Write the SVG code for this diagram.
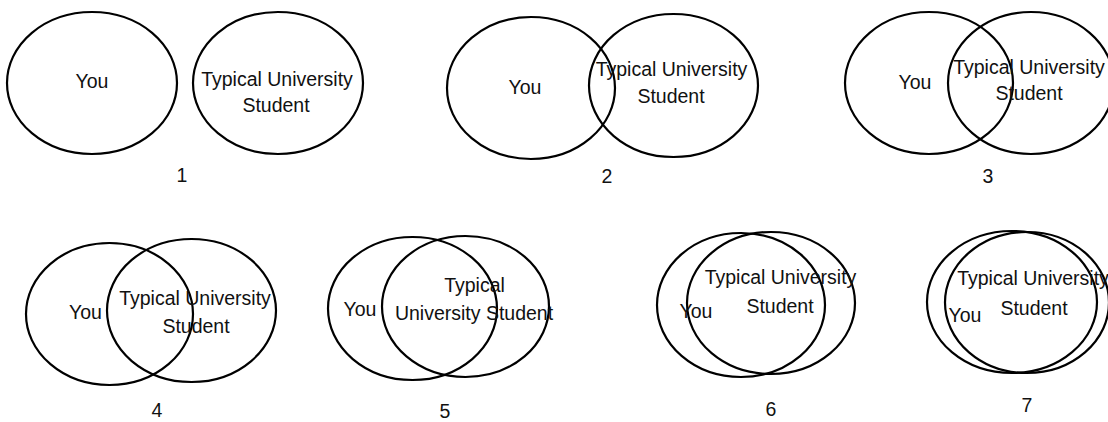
<svg xmlns="http://www.w3.org/2000/svg" width="1108" height="422" viewBox="0 0 1108 422">
<style>
ellipse{fill:none;stroke:#000;stroke-width:2.2}
text{font-family:"Liberation Sans",Arial,sans-serif;font-size:19.5px;fill:#111;text-anchor:middle}
</style>
<rect width="1108" height="422" fill="#fff"/>
<g id="connectors"/>
<g id="panel1">
<ellipse cx="92" cy="83" rx="85" ry="71"/>
<ellipse cx="278" cy="83" rx="85" ry="71"/>
<text x="92" y="88">You</text>
<text x="277" y="86">Typical University</text>
<text x="276" y="112">Student</text>
<text x="182" y="182">1</text>
</g>
<g id="panel2">
<ellipse cx="531" cy="88" rx="84" ry="71"/>
<ellipse cx="673.5" cy="85.5" rx="84.5" ry="71.5"/>
<text x="525" y="94">You</text>
<text x="671.5" y="76">Typical University</text>
<text x="671" y="103">Student</text>
<text x="607" y="183">2</text>
</g>
<g id="panel3">
<ellipse cx="929" cy="83" rx="84" ry="71"/>
<ellipse cx="1031" cy="83" rx="83" ry="71"/>
<text x="915" y="89">You</text>
<text x="1029" y="74">Typical University</text>
<text x="1029" y="100">Student</text>
<text x="988" y="183">3</text>
</g>
<g id="panel4">
<ellipse cx="109.5" cy="314" rx="83.5" ry="71"/>
<ellipse cx="191.5" cy="310.5" rx="84.5" ry="71.5"/>
<text x="85.5" y="319">You</text>
<text x="195" y="305">Typical University</text>
<text x="196" y="333">Student</text>
<text x="157" y="417">4</text>
</g>
<g id="panel5">
<ellipse cx="412.5" cy="308.5" rx="84.5" ry="71.5"/>
<ellipse cx="465.5" cy="306.5" rx="83.5" ry="70.5"/>
<text x="360" y="316">You</text>
<text x="474.5" y="292">Typical</text>
<text x="474" y="320">University Student</text>
<text x="445" y="418">5</text>
</g>
<g id="panel6">
<ellipse cx="741" cy="305" rx="84" ry="72"/>
<ellipse cx="771" cy="303" rx="84" ry="71"/>
<text x="696" y="318">You</text>
<text x="780.5" y="284">Typical University</text>
<text x="780" y="313">Student</text>
<text x="771" y="416">6</text>
</g>
<g id="panel7">
<ellipse cx="1012" cy="302" rx="85" ry="71"/>
<ellipse cx="1027" cy="302.5" rx="82" ry="70.5"/>
<text x="965" y="322">You</text>
<text x="1033" y="285">Typical University</text>
<text x="1034" y="315">Student</text>
<text x="1027" y="412">7</text>
</g>
</svg>
